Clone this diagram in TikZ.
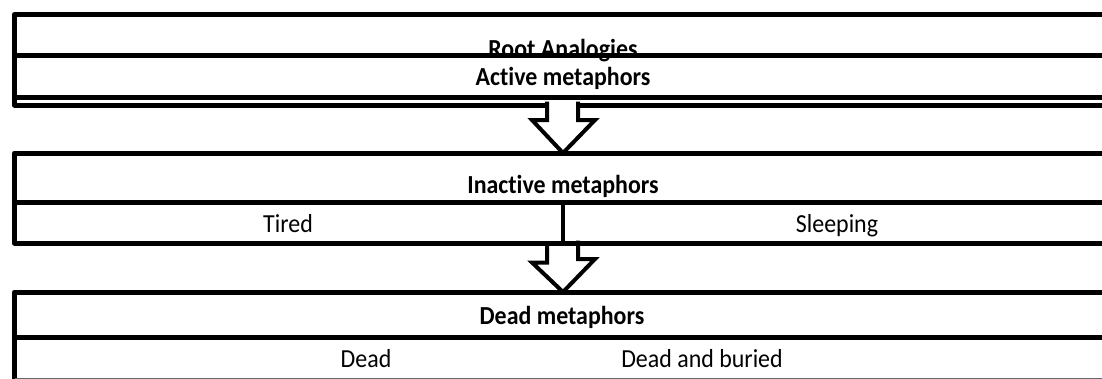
\documentclass[tikz,border=0pt]{standalone}
\usepackage{fontspec}
\setmainfont[FakeStretch=0.92,Ligatures=NoCommon]{Carlito}
\usetikzlibrary{calc}
\def\blockarrow(#1)(#2){\draw[blockarrow] (#1) ++(-16,0) -- ++(0,18.5) -- ++(-15,0) -- (#2) -- ++(32,-33) -- ++(-17,0) -- ++(0,-18.5);}

\begin{document}
\begin{tikzpicture}[x=1pt,y=-1pt,
	bar/.style={line width=5pt, line join=round},
	blockarrow/.style={line width=4pt, fill=white, line join=miter},
	plain/.style={anchor=base, inner sep=0pt, font=\fontsize{26}{30}\selectfont},
	heading/.style={plain, font=\fontsize{26}{30}\selectfont\bfseries}]
			%%%%% START %%%%%
			\useasboundingbox (0,0) rectangle (1102,378);
			
			% root analogies / active metaphors
			\node[heading] (root) at (563,57) {Root Analogies};
			\draw[bar] (1102,14.5) -- (14.5,14.5) -- (14.5,105) -- (1102,105);
			\draw[bar] (14.5,55) -- (1102,55);
			\draw[bar] (14.5,97) -- (1102,97);
			\node[heading] (active) at (563,85) {Active metaphors};
			
			\coordinate (top1) at (563,101.5);
			\coordinate (tip1) at (563,153);
			\blockarrow(top1)(tip1)
			
			% inactive metaphors
			\coordinate (top2) at (563,244);
			\coordinate (tip2) at (563,292);
			\blockarrow(top2)(tip2)
			
			\draw[bar] (1102,153) -- (14.5,153) -- (14.5,243) -- (1102,243);
			\draw[bar] (14.5,202) -- (1102,202);
			\draw[line width=4.5pt] (563,202) -- (563,243);
			\node[heading] (inactive) at (563,193) {Inactive metaphors};
			\node[plain] (tired) at (288,232) {Tired};
			\node[plain] (sleeping) at (837,232) {Sleeping};
			
			% dead metaphors
			\draw[bar] (1102,292) -- (14.5,292) -- (14.5,380);
			\draw[bar] (14.5,337) -- (1102,337);
			\draw[line width=3pt, color=black!60] (14.5,379) -- (1102,379);
			\node[heading] (deadmeta) at (562,324) {Dead metaphors};
			\node[plain] (dead) at (366,367) {Dead};
			\node[plain] (buried) at (702,367) {Dead and buried};
			
			%%%%% END %%%%%
\end{tikzpicture}
\end{document}
